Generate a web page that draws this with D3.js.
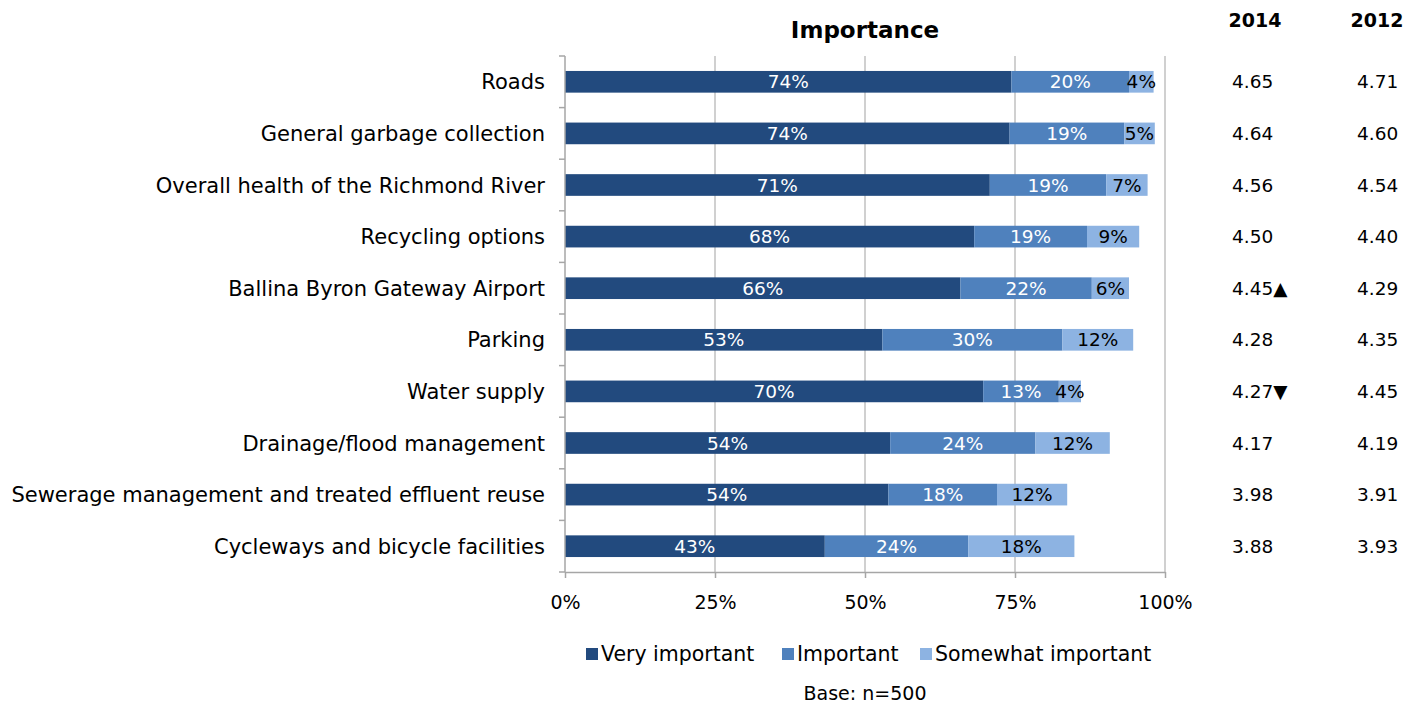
<!DOCTYPE html>
<html>
<head>
<meta charset="utf-8">
<script src="https://cdn.jsdelivr.net/npm/d3@7"></script>
<style>
  body { margin: 0; background: #fff; }
  svg text { font-family: "DejaVu Sans", sans-serif; fill: #000; }
</style>
</head>
<body>
<div id="chart"></div>
<script>
const categories = [
  'Roads',
  'General garbage collection',
  'Overall health of the Richmond River',
  'Recycling options',
  'Ballina Byron Gateway Airport',
  'Parking',
  'Water supply',
  'Drainage/flood management',
  'Sewerage management and treated effluent reuse',
  'Cycleways and bicycle facilities'
]
const veryImportant = [74.4, 74.1, 70.8, 68.2, 65.9, 52.9, 69.7, 54.2, 53.9, 43.3]
const important = [19.6, 19.1, 19.4, 18.8, 21.9, 30.0, 12.6, 24.2, 18.1, 23.9]
const somewhatImportant = [4.1, 5.1, 6.9, 8.7, 6.2, 11.8, 3.7, 12.4, 11.7, 17.7]
const mean2014 = ['4.65', '4.64', '4.56', '4.50', '4.45', '4.28', '4.27', '4.17', '3.98', '3.88']
const change2014 = ['', '', '', '', '▲', '', '▼', '', '', '']
const mean2012 = ['4.71', '4.60', '4.54', '4.40', '4.29', '4.35', '4.45', '4.19', '3.91', '3.93']
const seriesNames = ['Very important', 'Important', 'Somewhat important']
const xTicks = [0, 25, 50, 75, 100]

const colors = ['#224a7e', '#4f81bd', '#8db3e2']
const labelColors = ['#fff', '#fff', '#000']
const axeColor = '#a6a6a6'
const gridColor = '#c0c0c0'

const totalWidth = 1416
const totalHeight = 708
const marginLeft = 565
const marginTop = 56
const width = 600
const height = 516

const svg = d3.select('#chart')
  .append('svg')
  .attr('width', totalWidth)
  .attr('height', totalHeight)

const table = categories.map((c, i) => ({
  category: c,
  'Very important': veryImportant[i],
  'Important': important[i],
  'Somewhat important': somewhatImportant[i]
}))
const stacked = d3.stack().keys(seriesNames)(table)

const x = d3.scaleLinear()
  .domain([0, 100])
  .range([marginLeft, marginLeft + width])

const y = d3.scaleBand()
  .domain(categories)
  .range([marginTop, marginTop + height])
  .paddingInner(0.58)
  .paddingOuter(0.29)

// grid
svg.append('g')
  .selectAll('line')
  .data(xTicks.slice(1))
  .join('line')
  .attr('x1', d => x(d))
  .attr('x2', d => x(d))
  .attr('y1', marginTop)
  .attr('y2', marginTop + height)
  .attr('stroke', gridColor)
  .attr('stroke-width', 1.5)

// bars
const groups = svg.append('g')
  .selectAll('g')
  .data(stacked)
  .join('g')
  .attr('fill', (d, i) => colors[i])

groups.selectAll('rect')
  .data(d => d)
  .join('rect')
  .attr('x', d => x(d[0]))
  .attr('width', d => x(d[1]) - x(d[0]))
  .attr('y', d => y(d.data.category))
  .attr('height', y.bandwidth())

groups.each(function (s, si) {
  d3.select(this).selectAll('text')
    .data(s)
    .join('text')
    .attr('x', d => (x(d[0]) + x(d[1])) / 2)
    .attr('y', d => y(d.data.category) + y.bandwidth() / 2)
    .attr('dy', '0.36em')
    .attr('text-anchor', 'middle')
    .style('font-size', '18.5px')
    .style('fill', labelColors[si])
    .text(d => Math.round(d[1] - d[0]) + '%')
})

// y axis
const yAxis = svg.append('g')
  .attr('transform', `translate(${marginLeft},0)`)
yAxis.append('line')
  .attr('x1', 0).attr('x2', 0)
  .attr('y1', marginTop).attr('y2', marginTop + height)
  .attr('stroke', axeColor).attr('stroke-width', 1.5)
yAxis.selectAll('.tk')
  .data(d3.range(categories.length + 1))
  .join('line')
  .attr('class', 'tk')
  .attr('x1', -6).attr('x2', 0)
  .attr('y1', i => marginTop + i * y.step())
  .attr('y2', i => marginTop + i * y.step())
  .attr('stroke', axeColor).attr('stroke-width', 1.5)
yAxis.selectAll('text')
  .data(categories)
  .join('text')
  .attr('x', -20)
  .attr('y', d => y(d) + y.bandwidth() / 2)
  .attr('dy', '0.36em')
  .attr('text-anchor', 'end')
  .style('font-size', '21px')
  .text(d => d)

// x axis
const xAxis = svg.append('g')
  .attr('transform', `translate(0,${marginTop + height})`)
  .call(d3.axisBottom(x).tickValues(xTicks).tickSize(6).tickSizeOuter(0).tickFormat(d => d + '%'))
xAxis.select('.domain').attr('stroke', axeColor).attr('stroke-width', 1.5)
xAxis.selectAll('.tick line').attr('stroke', axeColor).attr('stroke-width', 1.5)
xAxis.selectAll('.tick text')
  .attr('y', 24)
  .style('font-size', '19px')

// title
svg.append('text')
  .attr('x', x(50))
  .attr('y', 38)
  .attr('text-anchor', 'middle')
  .style('font-size', '23px')
  .style('font-weight', 'bold')
  .text('Importance')

// mean columns
const col2014 = 1232
const col2012 = 1357
svg.append('text').attr('x', 1255).attr('y', 27).attr('text-anchor', 'middle')
  .style('font-size', '19px').style('font-weight', 'bold').text('2014')
svg.append('text').attr('x', 1377).attr('y', 27).attr('text-anchor', 'middle')
  .style('font-size', '19px').style('font-weight', 'bold').text('2012')

svg.append('g')
  .selectAll('text')
  .data(categories)
  .join('text')
  .attr('x', col2014)
  .attr('y', d => y(d) + y.bandwidth() / 2)
  .attr('dy', '0.36em')
  .style('font-size', '18.5px')
  .text((d, i) => mean2014[i] + change2014[i])

svg.append('g')
  .selectAll('text')
  .data(categories)
  .join('text')
  .attr('x', col2012)
  .attr('y', d => y(d) + y.bandwidth() / 2)
  .attr('dy', '0.36em')
  .style('font-size', '18.5px')
  .text((d, i) => mean2012[i])

// legend
const legendX = [586, 782, 920]
const legend = svg.append('g')
  .selectAll('g')
  .data(seriesNames)
  .join('g')
  .attr('transform', (d, i) => `translate(${legendX[i]},654)`)
legend.append('rect')
  .attr('x', 0).attr('y', -6)
  .attr('width', 12).attr('height', 12)
  .attr('fill', (d, i) => colors[i])
legend.append('text')
  .attr('x', 15)
  .attr('dy', '0.36em')
  .style('font-size', '20.5px')
  .text(d => d)

svg.append('text')
  .attr('x', x(50))
  .attr('y', 693)
  .attr('dy', '0.36em')
  .attr('text-anchor', 'middle')
  .style('font-size', '19px')
  .text('Base: n=500')
</script>
</body>
</html>
